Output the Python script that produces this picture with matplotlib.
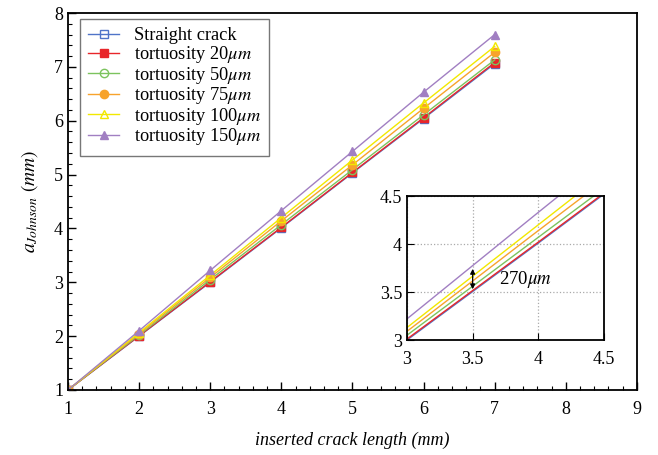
import matplotlib.pyplot as plt
import numpy as np
from matplotlib.ticker import MultipleLocator

plt.rcParams['font.family'] = 'Liberation Serif'
plt.rcParams['mathtext.fontset'] = 'stix'

crack_len = [1, 2, 3, 4, 5, 6, 7]
straight = [1, 2.0, 3.0, 4.01, 5.03, 6.04, 7.06]
tort20 = [1, 2.005, 3.01, 4.02, 5.04, 6.055, 7.08]
tort50 = [1, 2.02, 3.05, 4.07, 5.09, 6.11, 7.13]
tort75 = [1, 2.045, 3.09, 4.14, 5.18, 6.23, 7.27]
tort100 = [1, 2.065, 3.13, 4.2, 5.27, 6.33, 7.38]
tort150 = [1, 2.1, 3.22, 4.33, 5.43, 6.53, 7.6]

labels = ['Straight crack', r'tortuosity 20$\mu m$', r'tortuosity 50$\mu m$',
          r'tortuosity 75$\mu m$', r'tortuosity 100$\mu m$', r'tortuosity 150$\mu m$']
series = [straight, tort20, tort50, tort75, tort100, tort150]
colors = ['#4f74c8', '#e8262a', '#7cc35e', '#f7a32c', '#f2e800', '#a17fc2']
markers = ['s', 's', 'o', 'o', '^', '^']
filled = [False, True, False, True, False, True]

fig = plt.figure(figsize=(6.58, 4.55), dpi=100)
ax = fig.add_axes([0.1033, 0.1429, 0.8647, 0.8285])

for y, c, m, f, lab in zip(series, colors, markers, filled, labels):
    ax.plot(crack_len, y, color=c, lw=1.0, marker=m, ms=6,
            markerfacecolor=c if f else 'none', markeredgecolor=c,
            markeredgewidth=1.0, label=lab)

ax.set_xlim(1, 9)
ax.set_ylim(1, 8)
ax.xaxis.set_major_locator(MultipleLocator(1))
ax.yaxis.set_major_locator(MultipleLocator(1))
ax.xaxis.set_minor_locator(MultipleLocator(0.2))
ax.yaxis.set_minor_locator(MultipleLocator(0.2))
ax.tick_params(which='both', direction='in', top=False, right=False, labelsize=13)
ax.tick_params(which='major', length=6, width=1.0)
ax.tick_params(which='minor', length=3, width=0.8)
ax.tick_params(axis='x', pad=8)
for s in ax.spines.values():
    s.set_linewidth(1.3)
ax.set_xlabel('inserted crack length (mm)', fontsize=13, style='italic', labelpad=10)
ax.set_ylabel(r'$a_{Johnson}$ $(mm)$', fontsize=14, labelpad=10)

leg = ax.legend(loc='upper left', fontsize=13.2, frameon=True, fancybox=False,
                edgecolor='#555555', borderpad=0.45, labelspacing=-0.02,
                handlelength=1.7, handletextpad=0.8, borderaxespad=0,
                bbox_to_anchor=(0.021, 0.984))
leg.get_frame().set_linewidth(1.0)

# zoomed view around x = 3..4.5
ins = fig.add_axes([0.6185, 0.2527, 0.2994, 0.3165])
for y, c in zip(series, colors):
    ins.plot(crack_len, y, color=c, lw=1.0)
ins.set_xlim(3, 4.5)
ins.set_ylim(3, 4.5)
ins.set_xticks([3, 3.5, 4, 4.5])
ins.set_xticklabels(['3', '3.5', '4', '4.5'])
ins.set_yticks([3, 3.5, 4, 4.5])
ins.set_yticklabels(['3', '3.5', '4', '4.5'])
ins.grid(True, color='#aaaaaa', ls=':', lw=0.9)
ins.tick_params(direction='in', length=5, labelsize=13)
ins.tick_params(axis='x', pad=8)
for s in ins.spines.values():
    s.set_linewidth(1.3)

gap_low = 3.5
gap_high = 3.5 + 0.27
ins.annotate('', xy=(3.5, gap_high), xytext=(3.5, gap_low),
             arrowprops=dict(arrowstyle='<|-|>', color='black', lw=0.9,
                             mutation_scale=7))
ins.text(3.7, 3.63, r'270$\mu m$', fontsize=13.5, ha='left', va='center')

fig.savefig('out.png', dpi=100)
